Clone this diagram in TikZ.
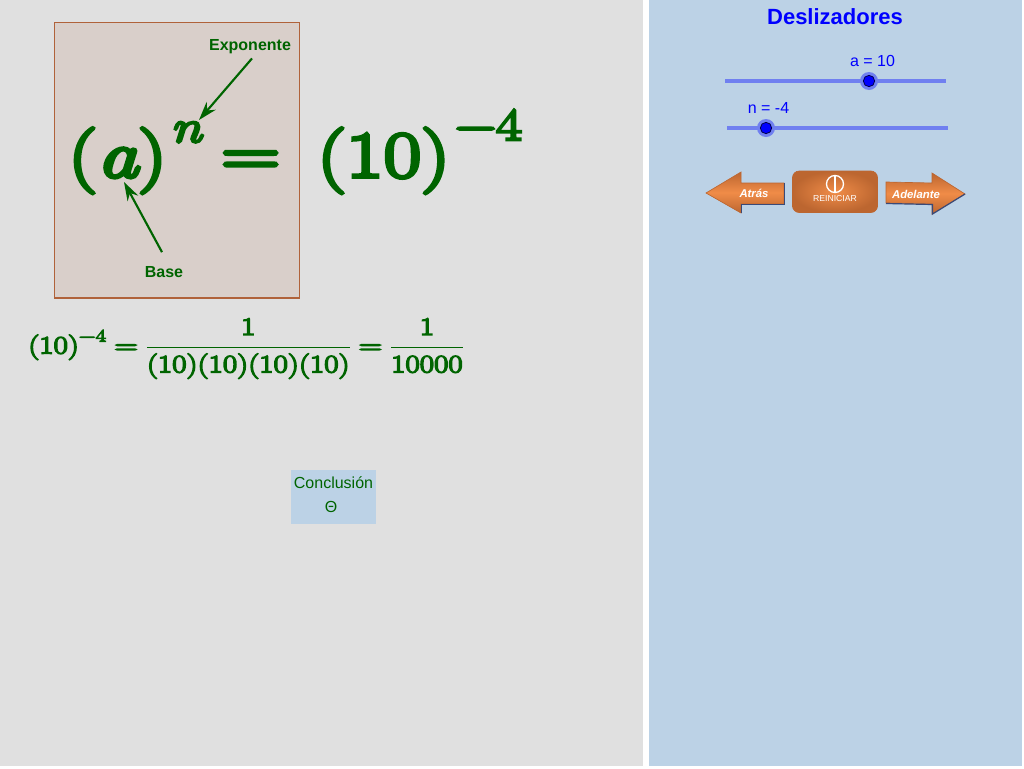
\documentclass[tikz,border=0pt]{standalone}
\usepackage{fix-cm}
\usepackage{amsmath, amssymb}
\usepackage[no-math]{fontspec}
\setmainfont{Liberation Sans}
\newfontfamily\eqbold{Latin Modern Roman}[FakeBold=6,FakeStretch=1.25]
\newcommand{\eqnum}[1]{\text{\eqbold #1}}
\newcommand{\eqvar}[1]{\text{\eqbold\itshape #1}}
\usepackage{tikz}
\usetikzlibrary{arrows.meta,calc}
\definecolor{panelgray}{HTML}{E0E0E0}
\definecolor{panelblue}{HTML}{BCD2E6}
\definecolor{boxfill}{HTML}{D9CFCA}
\definecolor{boxline}{HTML}{B0623A}
\definecolor{eqgreen}{HTML}{006400}
\definecolor{sliderline}{HTML}{7080F0}
\definecolor{btnlight}{HTML}{F08C48}
\definecolor{btndark}{HTML}{BC6630}
\definecolor{btnedge}{HTML}{3A4A78}
\tikzset{
  eqbig/.style={text=eqgreen,inner sep=0pt,font=\fontsize{49}{58}\selectfont\boldmath},
  eqsup/.style={text=eqgreen,inner sep=0pt,font=\fontsize{34}{40}\selectfont\boldmath},
  eqsmall/.style={text=eqgreen,inner sep=0pt,font=\fontsize{18.7}{23}\selectfont\boldmath},
  tag/.style={text=eqgreen,inner sep=0pt,font=\fontsize{12}{14}\selectfont\bfseries},
  pointer/.style={-{Stealth[length=14pt,width=9pt]},draw=eqgreen,line width=1.6pt},
  rail/.style={draw=sliderline,line width=3pt},
  knob/.style={circle,fill=blue,draw=black!70!blue,line width=0.6pt,minimum size=8.5pt,inner sep=0pt},
  halo/.style={circle,fill=sliderline,minimum size=13.5pt,inner sep=0pt},
  slidertext/.style={text=blue,inner sep=0pt,font=\fontsize{12}{14}\selectfont},
  btntext/.style={text=white,inner sep=0pt,font=\fontsize{8.5}{10}\selectfont\bfseries\itshape},
  btnshape/.style={top color=btndark,bottom color=btndark,middle color=btnlight,draw=btndark,line width=0.5pt},
  btnshade/.style={draw=btnedge,line width=0.9pt}
}
\begin{document}
\begin{tikzpicture}[x=0.75pt,y=-0.75pt]
  \useasboundingbox (0,0) rectangle (1024,768);
  \fill[white] (0,0) rectangle (1024,768);
  \fill[panelgray] (0,0) rectangle (643,766);
  \fill[panelblue] (649,0) rectangle (1022,766);
  % power box
  \path[fill=boxfill,draw=boxline,line width=0.9pt] (54.5,22.5) rectangle (299.5,298);
  \node[eqbig,anchor=base west] (baseeq) at (68,177) {$\eqnum{(}\eqvar{a}\eqnum{)}$};
  \node[eqsup,anchor=base west] (expn) at (170,142) {$\eqvar{n}$};
  \node[eqbig,anchor=base west] (eqsign) at (221,175) {$\eqnum{=}$};
  \node[eqbig,anchor=base west] (valeq) at (317,177) {$\eqnum{(10)}$};
  \node[eqsup,anchor=base west] (valexp) at (455,140) {$\eqnum{−4}$};
  \node[tag] (exptag) at (250,47) {Exponente};
  \node[tag] (basetag) at (164,272) {Base};
  \coordinate (exptip) at (199,120);
  \coordinate (basetip) at (124,182);
  \draw[pointer] (exptag.south)++(2,4) -- (exptip);
  \draw[pointer] (basetag.north)++(-2,-14) -- (basetip);
  % expansion
  \node[eqsmall,anchor=west] (expand) at (28,348.5) {$\displaystyle\eqnum{(10)}^{\eqnum{−4}}\mathrel{\eqnum{=}}\frac{\eqnum{1}}{\eqnum{(10)(10)(10)(10)}}\mathrel{\eqnum{=}}\frac{\eqnum{1}}{\eqnum{10000}}$};
  % conclusion
  \fill[panelblue] (291,470) rectangle (376,524);
  \node[text=eqgreen,inner sep=0pt,font=\fontsize{12}{14}\selectfont] (conc) at (333.5,483) {Conclusión};
  \node[text=eqgreen,inner sep=0pt,font=\fontsize{12}{14}\selectfont] (theta) at (331,507) {Θ};
  % sliders
  \node[text=blue,inner sep=0pt,font=\fontsize{16.5}{20}\selectfont\bfseries] (title) at (835,17) {Deslizadores};
  \foreach \y/\xa/\xb/\k/\lab/\lx in {81/725/946/869/{a = 10}/872.5,128/727/948/766/{n = -4}/768.5}{
    \draw[rail] (\xa,\y) -- (\xb,\y);
    \node[halo] at (\k,\y) {};
    \node[knob] at (\k,\y) {};
    \node[slidertext] at (\lx,\y-20) {\lab};
  }
  % buttons
  \path[btnshape] (706,193) -- (741,172) -- (741,183) -- (784,183) -- (784,204) -- (741,204) -- (741,213) -- cycle;
  \draw[btnshade] (784.5,183) -- (784.5,204.5) -- (741.5,204.5) -- (741.5,213);
  \node[btntext] (back) at (754,193) {Atrás};
  \path[inner color=btnlight,outer color=btndark,draw=btndark,line width=0.5pt,rounded corners=5pt] (792.5,171) rectangle (877.5,212.5);
  \draw[white,line width=1pt] (835,184) circle (8.5);
  \draw[white,line width=1pt] (835,175.5) -- (835,192.5);
  \node[text=white,inner sep=0pt,font=\fontsize{6.5}{8}\selectfont] (reset) at (835,198.5) {REINICIAR};
  \path[btnshape] (886,182) -- (932,183) -- (932,173) -- (965,194) -- (932,214) -- (932,204) -- (886,203) -- cycle;
  \draw[btnshade] (965,194) -- (932.5,214) -- (932.5,204.5) -- (886,203.5);
  \node[btntext] (next) at (916,194) {Adelante};
\end{tikzpicture}
\end{document}
